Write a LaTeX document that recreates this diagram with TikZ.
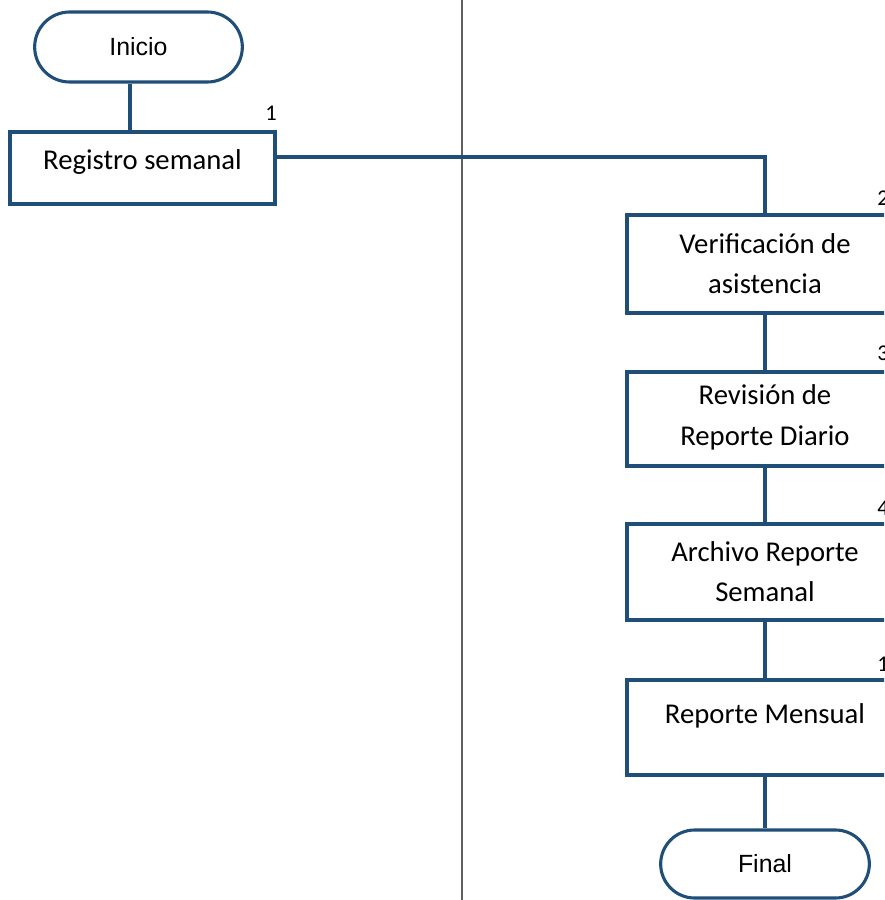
\documentclass[tikz,border=0pt]{standalone}
\usepackage{fontspec}
\setmainfont{Carlito}
\newfontfamily\arialfont{Liberation Sans}
\usetikzlibrary{shapes.misc}
\definecolor{flowblue}{RGB}{31,78,121}
\definecolor{laneline}{RGB}{95,95,95}
\tikzset{
  flow/.style={draw=flowblue, line width=2.2pt},
  term/.style={flow, rounded rectangle, fill=white, font=\arialfont\fontsize{17.7}{21}\selectfont},
  procbox/.style={flow, rectangle, fill=white, align=center, font=\fontsize{20.4}{28.5}\selectfont},
  steplabel/.style={font=\fontsize{16}{18}\selectfont, inner sep=0pt},
}
\begin{document}
\begin{tikzpicture}[x=0.025cm, y=-0.025cm]
\useasboundingbox (0,0) rectangle (884,900);
\clip (0,0) rectangle (884,900);

% lane divider
\draw[laneline, line width=1.3pt] (462,0) -- (462,900);

% left lane
\node[term, minimum width=5.425cm, minimum height=1.75cm] (ini) at (138.5,47) {Inicio};
\node[procbox, minimum width=6.625cm, minimum height=1.8cm, text depth=0.4cm] (reg) at (142.5,168) {Registro semanal};
\node[steplabel] (n1) at (271,113) {1};

% right lane
\node[procbox, minimum width=6.9cm, minimum height=2.45cm] (ver) at (765,264) {Verificación de\\asistencia};
\node[procbox, minimum width=6.9cm, minimum height=2.35cm, text depth=0.2cm] (rev) at (765,419) {Revisión de\\Reporte Diario};
\node[procbox, minimum width=6.9cm, minimum height=2.4cm] (arc) at (765,572) {Archivo Reporte\\Semanal};
\node[procbox, minimum width=6.9cm, minimum height=2.375cm] (men) at (765,727.5) {Reporte Mensual\\[-17pt]\strut};
\node[term, minimum width=5.45cm, minimum height=1.7cm] (fin) at (765,864) {Final};

\node[steplabel, anchor=west] (n2) at (877,198) {2};
\node[steplabel, anchor=west] (n3) at (877,353) {3};
\node[steplabel, anchor=west] (n4) at (877,508) {4};
\node[steplabel, anchor=west] (n5) at (877,664) {1};

% connectors
\coordinate (colA) at (130,0);
\draw[flow] (ini.south -| colA) -- (reg.north -| colA);
\draw[flow] ([yshift=0.275cm]reg.east) -| (ver.north);
\draw[flow] (ver.south) -- (rev.north);
\draw[flow] (rev.south) -- (arc.north);
\draw[flow] (arc.south) -- (men.north);
\draw[flow] (men.south) -- (fin.north);
\end{tikzpicture}
\end{document}
